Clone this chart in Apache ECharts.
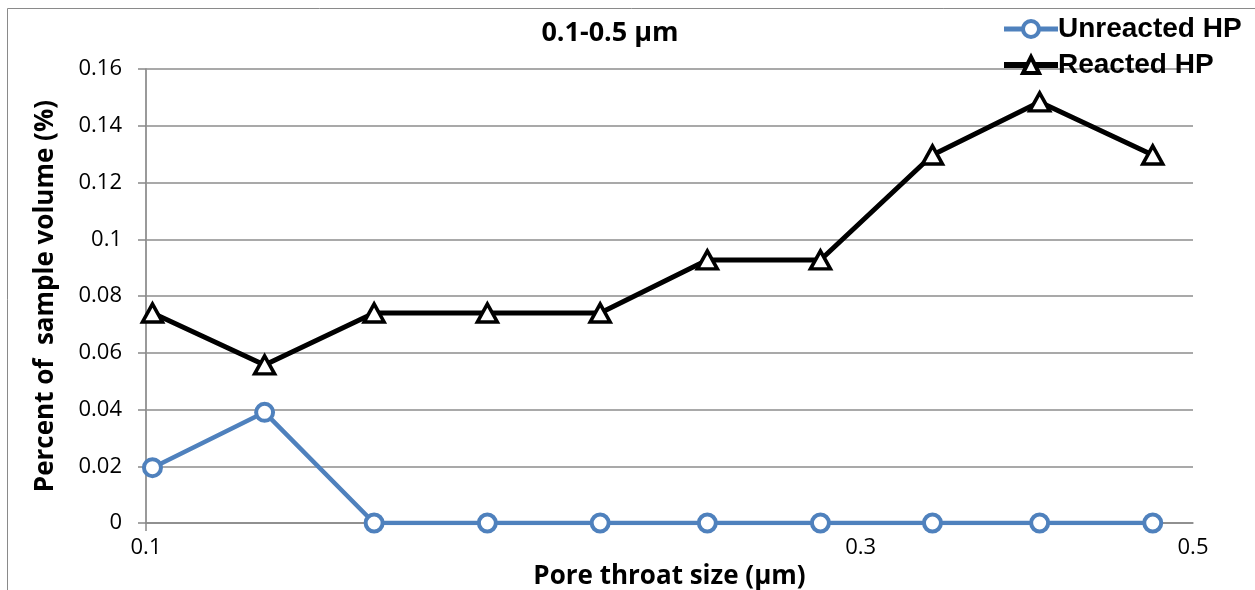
<!DOCTYPE html>
<html>
<head>
<meta charset="utf-8">
<script src="https://cdn.jsdelivr.net/npm/echarts@6/dist/echarts.min.js"></script>
<style>html,body{margin:0;padding:0;background:#fff}#c{width:1255px;height:590px}</style>
</head>
<body>
<div id="c"></div>
<script>
const poreSize = [0.101, 0.120, 0.142, 0.169, 0.201, 0.237, 0.282, 0.335, 0.395, 0.470];
const unreacted = [0.0195, 0.039, 0, 0, 0, 0, 0, 0, 0, 0];
const reacted = [0.074, 0.0557, 0.074, 0.074, 0.074, 0.0927, 0.0927, 0.1297, 0.1484, 0.1297];
const xGridValues = [0.2, 0.3, 0.4, 0.5];
const xLabelValues = [0.1, 0.3, 0.5];

const chart = echarts.init(document.getElementById('c'));
const font = '"Open Sans", "Noto Sans", sans-serif';
const legendFont = '"Liberation Sans", Arial, sans-serif';

chart.setOption({
  animation: false,
  backgroundColor: '#fff',
  graphic: [{
    type: 'rect', shape: {x: 7.5, y: 8.5, width: 1300, height: 700},
    style: {fill: 'none', stroke: '#8a8a8a', lineWidth: 1}, z: -10
  }],
  title: {
    text: '0.1-0.5 μm', left: 605, top: 15, textAlign: 'center',
    textStyle: {fontFamily: font, fontWeight: 'bold', fontSize: 27, color: '#000'}
  },
  legend: {
    orient: 'vertical', left: 996, top: 10, itemGap: 8,
    itemWidth: 54, itemHeight: 20,
    textStyle: {fontFamily: legendFont, fontWeight: 'bold', fontSize: 28, color: '#000', padding: [0, 0, 0, -5]},
    data: [
      {name: 'Unreacted HP', lineStyle: {width: 5}, itemStyle: {borderWidth: 4}},
      {name: 'Reacted HP', lineStyle: {width: 6}, itemStyle: {borderWidth: 4}}
    ]
  },
  grid: {left: 146, right: 62, top: 69, bottom: 67, containLabel: false, outerBoundsMode: 'none'},
  xAxis: {
    type: 'log', logBase: 10, min: 0.1, max: 0.5,
    name: 'Pore throat size (μm)', nameLocation: 'middle', nameGap: 27,
    nameTextStyle: {fontFamily: font, fontWeight: 'bold', fontSize: 26, color: '#000'},
    axisLine: {show: true, lineStyle: {color: '#888', width: 1.5}},
    axisTick: {show: true, customValues: [0.1], length: 8, lineStyle: {color: '#888', width: 1.5}},
    axisLabel: {customValues: xLabelValues, fontFamily: font, fontSize: 22, color: '#000', margin: 14,
      formatter: v => String(+v.toFixed(2))},
    splitLine: {show: true, customValues: xGridValues, lineStyle: {color: '#bdbdbd', width: 1.5}}
  },
  yAxis: {
    type: 'value', min: 0, max: 0.16, interval: 0.02,
    name: 'Percent of  sample volume (%)', nameLocation: 'middle', nameGap: 87,
    nameTextStyle: {fontFamily: font, fontWeight: 'bold', fontSize: 26, color: '#000'},
    axisLine: {show: true, lineStyle: {color: '#888', width: 1.5}},
    axisTick: {show: true, length: 8, lineStyle: {color: '#888', width: 1.5}},
    axisLabel: {fontFamily: font, fontSize: 22, color: '#000', margin: 24,
      formatter: v => String(+v.toFixed(2))},
    splitLine: {show: true, lineStyle: {color: '#8c8c8c', width: 1.5}}
  },
  series: [
    {
      name: 'Unreacted HP', type: 'line',
      data: poreSize.map((x, i) => [x, unreacted[i]]),
      symbol: 'circle', symbolSize: 17,
      lineStyle: {color: '#4f81bd', width: 4.5},
      itemStyle: {color: '#fff', borderColor: '#4f81bd', borderWidth: 4},
      z: 3
    },
    {
      name: 'Reacted HP', type: 'line',
      data: poreSize.map((x, i) => [x, reacted[i]]),
      symbol: 'triangle', symbolSize: [20, 18],
      lineStyle: {color: '#000', width: 5},
      itemStyle: {color: '#fff', borderColor: '#000', borderWidth: 3.5},
      z: 4
    }
  ]
});
</script>
</body>
</html>
